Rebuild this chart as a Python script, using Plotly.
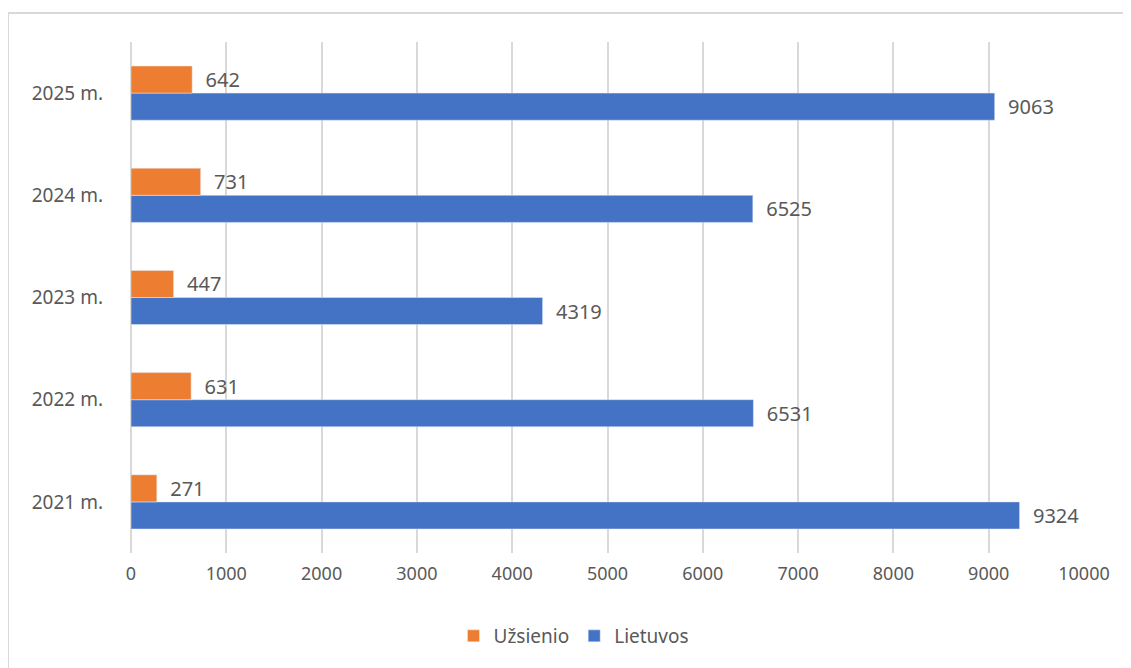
import plotly.graph_objects as go

categories = ["2021 m.", "2022 m.", "2023 m.", "2024 m.", "2025 m."]
uzsienio = [271, 631, 447, 731, 642]
lietuvos = [9324, 6531, 4319, 6525, 9063]
x_ticks = list(range(0, 10001, 1000))
x_tick_labels = [str(v) for v in x_ticks]

OFF = 8  # page body offset
W, H = 1131 - OFF, 668 - OFF
L, R, T, B = 131 - OFF, 47, 42 - OFF, 115
pw = W - L - R
ph = H - T - B

fig = go.Figure()
fig.add_trace(go.Bar(
    y=categories, x=lietuvos, orientation="h", name="Lietuvos",
    marker=dict(color="#4472C4"), legendrank=2,
    text=["\u00a0\u00a0" + str(v) for v in lietuvos], textposition="outside",
    textfont=dict(size=20, color="#595959"), cliponaxis=False,
))
fig.add_trace(go.Bar(
    y=categories, x=uzsienio, orientation="h", name="Užsienio",
    marker=dict(color="#ED7D31"), legendrank=1,
    text=["\u00a0\u00a0" + str(v) for v in uzsienio], textposition="outside",
    textfont=dict(size=20, color="#595959"), cliponaxis=False,
))

# convert screen pixel -> paper coords
px2x = lambda px: (px - OFF - L) / pw
py2y = lambda py: (H - B - (py - OFF)) / ph

fig.update_layout(
    width=W, height=H,
    margin=dict(l=L, r=R, t=T, b=B),
    paper_bgcolor="white", plot_bgcolor="white",
    barmode="group", bargap=0.47, bargroupgap=0,
    font=dict(family="Noto Sans, Open Sans, sans-serif", color="#595959", size=16),
    xaxis=dict(range=[0, 10000], tickvals=x_ticks, ticktext=x_tick_labels, showgrid=True,
               gridcolor="#D9D9D9", gridwidth=2, zeroline=True,
               zerolinecolor="#D9D9D9", zerolinewidth=2,
               tickfont=dict(size=18, color="#595959"), ticks="", showline=False,
               ticklabelstandoff=8),
    yaxis=dict(showgrid=False, ticks="", ticklen=0, showline=False,
               tickfont=dict(size=19, color="#595959"), ticklabelstandoff=27),
    legend=dict(orientation="h", x=px2x(574), xanchor="center", y=py2y(636), yanchor="middle",
                font=dict(size=19, color="#595959"), itemwidth=30),
    showlegend=True,
    shapes=[
        dict(type="line", xref="paper", yref="paper", x0=px2x(8), x1=px2x(1140),
             y0=py2y(13), y1=py2y(13), line=dict(color="#D9D9D9", width=2)),
        dict(type="line", xref="paper", yref="paper", x0=px2x(8), x1=px2x(8),
             y0=py2y(13), y1=py2y(680), line=dict(color="#D9D9D9", width=2)),
    ],
)
fig.write_html("out.html")
